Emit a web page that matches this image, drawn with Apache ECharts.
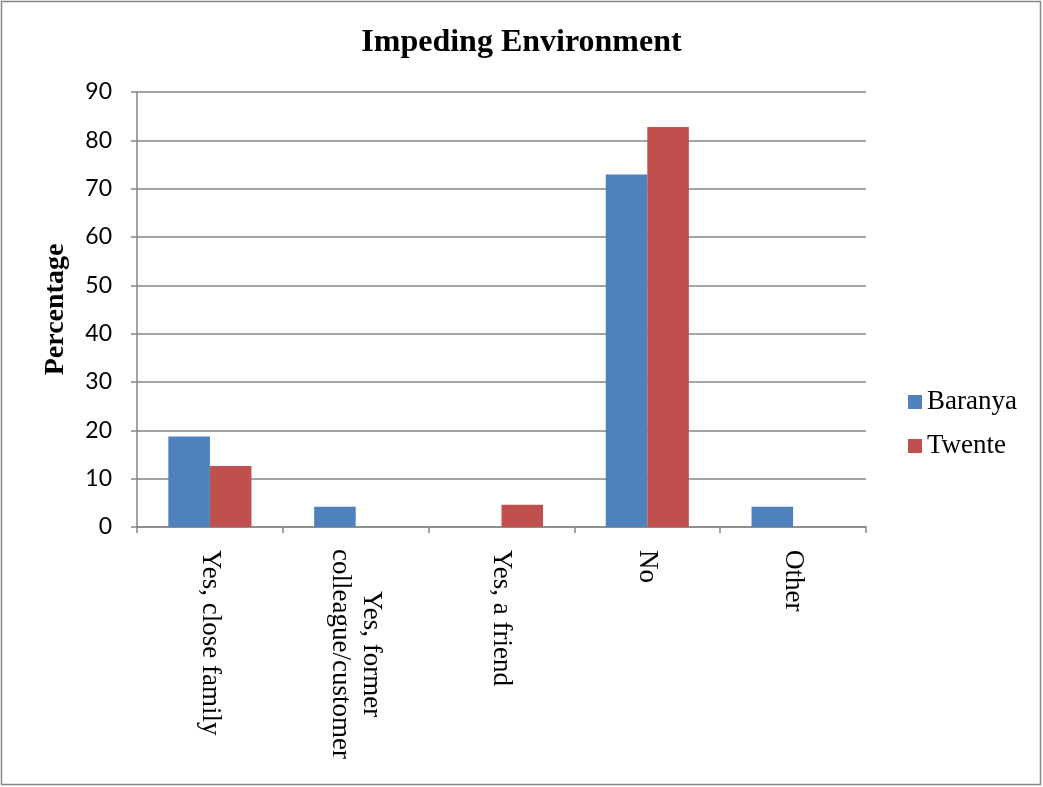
<!DOCTYPE html>
<html>
<head>
<meta charset="utf-8">
<script src="https://cdn.jsdelivr.net/npm/echarts@6/dist/echarts.min.js"></script>
<style>
  html, body { margin: 0; padding: 0; background: #fff; }
  #chart { width: 1043px; height: 787px; }
</style>
</head>
<body>
<div id="chart"></div>
<script>
// Responses to "Impeding Environment", percentage per region
const categories = ['Yes, close family', 'Yes, former\ncolleague/customer', 'Yes, a friend', 'No', 'Other'];
const baranya = [18.75, 4.17, 0, 72.92, 4.17];
const twente = [12.64, 0, 4.6, 82.76, 0];
const yTicks = { min: 0, max: 90, interval: 10 };

const serif = "'Liberation Serif', 'Times New Roman', serif";
const sans = "Lato, 'Liberation Sans', sans-serif";
const gridColor = '#868686';

const chart = echarts.init(document.getElementById('chart'));
chart.setOption({
  animation: false,
  backgroundColor: '#fff',
  textStyle: { fontFamily: serif, color: '#000' },
  graphic: [{
    type: 'rect',
    shape: { x: 1.5, y: 1.5, width: 1039, height: 783 },
    style: { fill: 'none', stroke: gridColor, lineWidth: 1.5 },
    silent: true
  }],
  title: {
    text: 'Impeding Environment',
    left: 'center',
    top: 22,
    textStyle: { fontFamily: serif, fontWeight: 'bold', fontSize: 32, color: '#000' }
  },
  legend: {
    orient: 'vertical',
    left: 903,
    top: 383,
    itemWidth: 14,
    itemHeight: 14,
    itemGap: 16,
    icon: 'rect',
    textStyle: { fontFamily: serif, fontSize: 27, lineHeight: 28, color: '#000' },
    data: ['Baranya', 'Twente']
  },
  grid: { left: 137, right: 177, top: 92, bottom: 260, containLabel: false },
  xAxis: {
    type: 'category',
    data: categories,
    axisLine: { lineStyle: { color: gridColor, width: 1.5 } },
    axisTick: { show: true, length: 6, lineStyle: { color: gridColor, width: 1.5 } },
    axisLabel: {
      rotate: -90,
      margin: 23,
      interval: 0,
      fontFamily: serif,
      fontSize: 27,
      color: '#000',
      formatter: function (v) {
        if (v.indexOf('\n') >= 0) {
          return v.split('\n').map(function (s) { return '{c|' + s + '}'; }).join('\n');
        }
        return v;
      },
      rich: {
        c: { width: 208, align: 'center', fontFamily: serif, fontSize: 27, color: '#000', lineHeight: 31 }
      }
    }
  },
  yAxis: {
    type: 'value',
    min: yTicks.min,
    max: yTicks.max,
    interval: yTicks.interval,
    name: 'Percentage',
    nameLocation: 'middle',
    nameGap: 67,
    nameRotate: 90,
    nameTextStyle: { fontFamily: serif, fontWeight: 'bold', fontSize: 28, color: '#000' },
    axisLine: { show: true, lineStyle: { color: gridColor, width: 1.5 } },
    axisTick: { show: true, length: 6, lineStyle: { color: gridColor, width: 1.5 } },
    axisLabel: { margin: 25, fontFamily: sans, fontSize: 23, color: '#000' },
    splitLine: { lineStyle: { color: gridColor, width: 1.5 } }
  },
  series: [
    {
      name: 'Baranya',
      type: 'bar',
      data: baranya,
      barGap: '0%',
      barCategoryGap: '43%',
      itemStyle: { color: '#4F81BD' }
    },
    {
      name: 'Twente',
      type: 'bar',
      data: twente,
      itemStyle: { color: '#C0504D' }
    }
  ]
});
</script>
</body>
</html>
